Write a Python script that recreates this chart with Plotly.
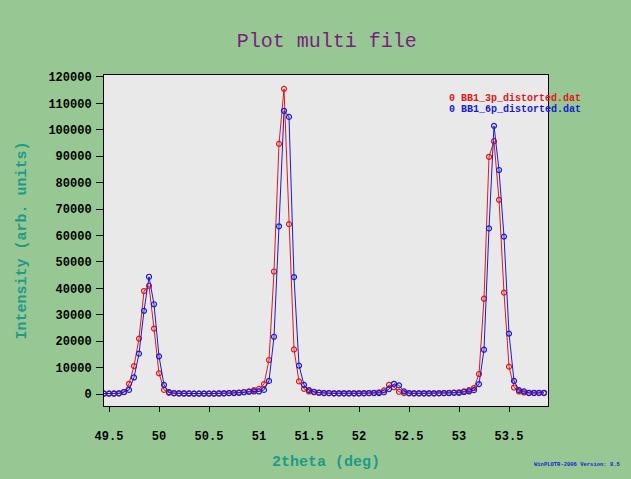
import plotly.graph_objects as go

# 2theta grid (deg), shared by both files
two_theta = [
    49.45, 49.50, 49.55, 49.60, 49.65, 49.70, 49.75, 49.80, 49.85, 49.90,
    49.95, 50.00, 50.05, 50.10, 50.15, 50.20, 50.25, 50.30, 50.35, 50.40,
    50.45, 50.50, 50.55, 50.60, 50.65, 50.70, 50.75, 50.80, 50.85, 50.90,
    50.95, 51.00, 51.05, 51.10, 51.15, 51.20, 51.25, 51.30, 51.35, 51.40,
    51.45, 51.50, 51.55, 51.60, 51.65, 51.70, 51.75, 51.80, 51.85, 51.90,
    51.95, 52.00, 52.05, 52.10, 52.15, 52.20, 52.25, 52.30, 52.35, 52.40,
    52.45, 52.50, 52.55, 52.60, 52.65, 52.70, 52.75, 52.80, 52.85, 52.90,
    52.95, 53.00, 53.05, 53.10, 53.15, 53.20, 53.25, 53.30, 53.35, 53.40,
    53.45, 53.50, 53.55, 53.60, 53.65, 53.70, 53.75, 53.80, 53.85,
]

# BB1_3p_distorted.dat intensities
intensity_3p = [
    200, 200, 250, 300, 750, 3900, 10600, 21000, 39000, 41000,
    24800, 7900, 1600, 500, 300, 250, 250, 200, 200, 200,
    200, 200, 200, 250, 300, 400, 500, 600, 800, 1000,
    1500, 2000, 3800, 12900, 46400, 94700, 115500, 64300, 16900, 4800,
    2000, 1000, 700, 500, 400, 350, 300, 300, 300, 300,
    300, 300, 350, 400, 500, 700, 1400, 3500, 2600, 900,
    400, 300, 300, 300, 300, 300, 300, 350, 400, 500,
    600, 700, 1000, 1500, 2300, 7600, 36100, 89800, 95700, 73500,
    38400, 10400, 2500, 1000, 600, 400, 400, 400, 400,
]

# BB1_6p_distorted.dat intensities
intensity_6p = [
    200, 200, 200, 300, 800, 1600, 6300, 15300, 31500, 44400,
    34000, 14300, 3500, 750, 400, 300, 250, 250, 200, 200,
    200, 200, 200, 250, 300, 350, 400, 500, 700, 900,
    1000, 1000, 1600, 5000, 21700, 63500, 107200, 104900, 44300, 10800,
    3500, 1500, 900, 600, 400, 350, 300, 300, 300, 300,
    300, 300, 300, 350, 400, 400, 700, 1900, 3900, 3300,
    1000, 400, 300, 300, 300, 300, 300, 300, 350, 400,
    450, 500, 800, 1000, 1500, 3800, 16800, 62700, 101500, 84800,
    59600, 22900, 5000, 1500, 1000, 500, 500, 500, 500,
]

file_names = ["BB1_3p_distorted.dat", "BB1_6p_distorted.dat"]
series = [intensity_3p, intensity_6p]
colors = ["#e01818", "#1a1ad6"]

mono = "Liberation Mono"
teal = "#1d9a8a"

fig = go.Figure()
for name, ys, col in zip(file_names, series, colors):
    fig.add_trace(go.Scatter(
        x=two_theta, y=ys, name=name, mode="lines+markers",
        line=dict(color=col, width=1),
        marker=dict(symbol="circle-open", size=5, color=col, line=dict(width=1.2, color=col)),
        showlegend=False,
    ))

# legend-like labels in the upper right
for i, (name, col) in enumerate(zip(file_names, colors)):
    fig.add_annotation(
        xref="paper", yref="paper", x=0.772, y=0.928 - i * 0.031,
        xanchor="left", yanchor="middle", showarrow=False,
        text=f"0 {name}",
        font=dict(family=mono, size=10, color=col, weight="bold"),
    )

# program stamp in the lower right corner
fig.add_annotation(
    xref="paper", yref="paper", x=0.965, y=-0.177,
    xanchor="left", yanchor="middle", showarrow=False,
    text="WinPLOTR-2006 Version: 8.5",
    font=dict(family=mono, size=5.5, color="#1a1ad6", weight="bold"),
)

fig.update_layout(
    width=631, height=479,
    margin=dict(l=104, r=83, t=75, b=71),
    paper_bgcolor="#97c893",
    plot_bgcolor="#e9e9e9",
    title=dict(
        text="Plot multi file", x=0.518, xanchor="center",
        y=1 - 40 / 479, yanchor="middle", yref="container",
        font=dict(family=mono, size=20, color="#7a1f7e"),
    ),
    xaxis=dict(
        range=[49.45, 53.89], tick0=49.5, dtick=0.5,
        showgrid=False, zeroline=False,
        showline=True, linecolor="black", linewidth=1, mirror=True,
        ticks="outside", ticklen=5, tickcolor="black",
        ticklabelstandoff=14,
        tickfont=dict(family=mono, size=12, color="black", weight="bold"),
        title=dict(text="2theta (deg)", standoff=12,
                   font=dict(family=mono, size=15, color=teal, weight="bold")),
    ),
    yaxis=dict(
        range=[-4500, 120750], tick0=0, dtick=10000, tickformat="d",
        showgrid=False, zeroline=False,
        showline=True, linecolor="black", linewidth=1, mirror=True,
        ticks="outside", ticklen=7, tickcolor="black",
        ticklabelstandoff=2,
        tickfont=dict(family=mono, size=12, color="black", weight="bold"),
        title=dict(text="Intensity (arb. units)", standoff=18,
                   font=dict(family=mono, size=15, color=teal, weight="bold")),
    ),
)

fig.write_html("out.html")
